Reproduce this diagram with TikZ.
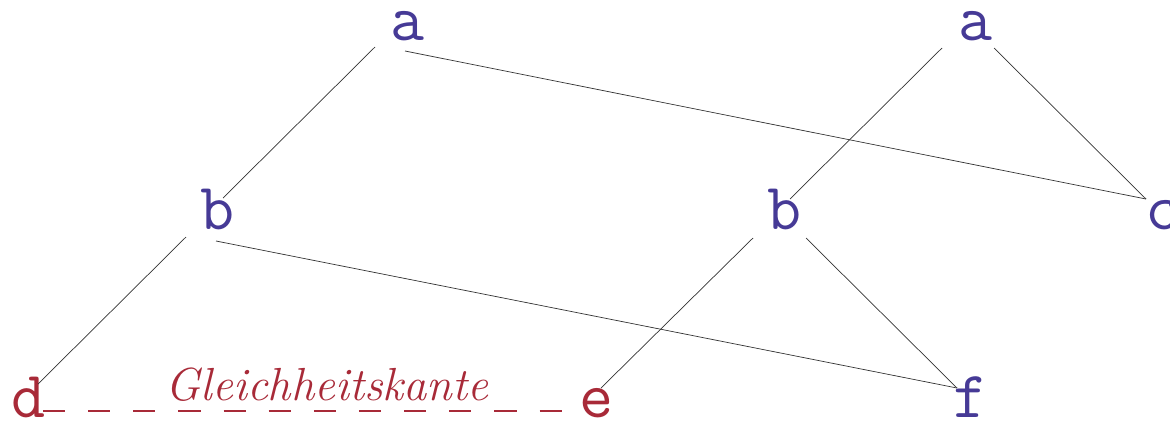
\documentclass[tikz,border=0pt]{standalone}
\usetikzlibrary{calc}
\definecolor{nodeblue}{RGB}{70,58,150}
\definecolor{nodered}{RGB}{168,42,56}
\begin{document}
\begin{tikzpicture}[x=0.025cm,y=-0.025cm,
  letter/.style={anchor=base,inner sep=0pt,font=\fontsize{47}{50}\selectfont\ttfamily},
  bl/.style={letter,text=nodeblue},
  rd/.style={letter,text=nodered},
  edge/.style={draw=black!80,line width=0.5pt},
  eqedge/.style={draw=nodered,line width=1.5pt,dash pattern=on 15.8pt off 16.3pt},
  lbl/.style={anchor=base,inner sep=0pt,text=nodered,font=\fontsize{33}{37}\selectfont\itshape}]
\useasboundingbox (0,0) rectangle (1170,422);
\node[bl] (a1) at (408,40) {a};
\node[bl] (a2) at (976,40) {a};
\node[bl] (b1) at (218,229) {b};
\node[bl] (b2) at (785,229) {b};
\node[bl] (c) at (1163,229) {c};
\node[rd] (d) at (29,417) {d};
\node[rd] (e) at (597,417) {e};
\node[bl] (f) at (971,417) {f};
\node[lbl] (gl) at (327,400) {Gleichheitskante};
\draw[edge] ($(a1.base)+(-33,7)$) -- ($(b1.base)+(5,-31)$);
\draw[edge] ($(a1.base)+(-3,11)$) -- ($(c.base)+(-17,-30)$);
\draw[edge] ($(a2.base)+(-34,8)$) -- ($(b2.base)+(5,-30)$);
\draw[edge] ($(a2.base)+(18,8)$) -- ($(c.base)+(-17,-30)$);
\draw[edge] ($(b1.base)+(-32,8)$) -- ($(d.base)+(9,-33)$);
\draw[edge] ($(b1.base)+(-2,12)$) -- ($(f.base)+(-14,-29)$);
\draw[edge] ($(b2.base)+(-32,9)$) -- ($(e.base)+(4,-29)$);
\draw[edge] ($(b2.base)+(21,9)$) -- ($(f.base)+(-14,-29)$);
\draw[eqedge] ($(d.base)+(14,-6)$) -- ($(e.base)+(-33,-6)$);
\end{tikzpicture}
\end{document}
